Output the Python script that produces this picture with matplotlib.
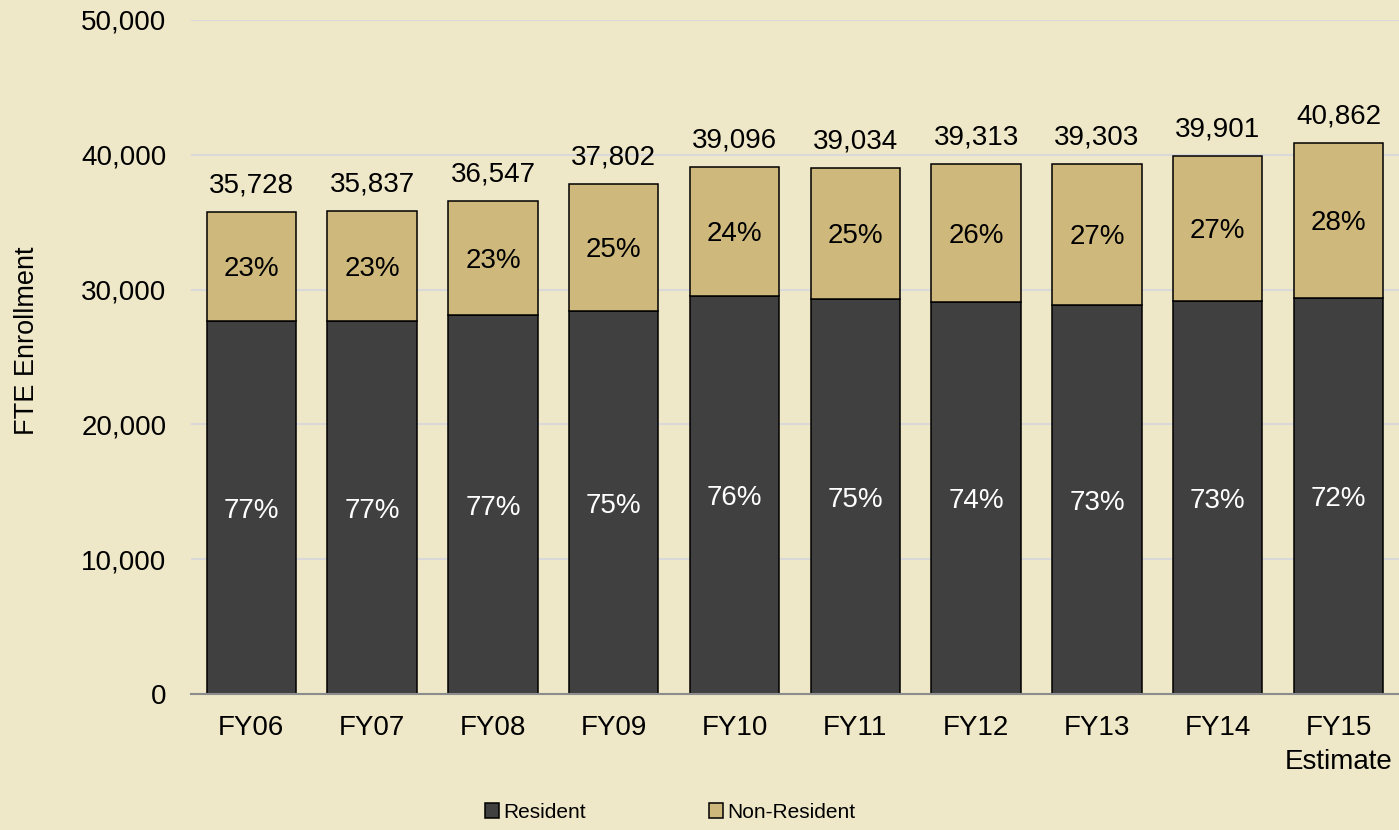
import matplotlib.pyplot as plt
from matplotlib.ticker import FuncFormatter

# FTE enrollment by fiscal year
years = ['FY06', 'FY07', 'FY08', 'FY09', 'FY10', 'FY11', 'FY12', 'FY13', 'FY14', 'FY15\nEstimate']
totals = [35728, 35837, 36547, 37802, 39096, 39034, 39313, 39303, 39901, 40862]
resident = [27670, 27670, 28116, 28412, 29525, 29300, 29080, 28858, 29150, 29377]
resident_pct = ['77%', '77%', '77%', '75%', '76%', '75%', '74%', '73%', '73%', '72%']
nonres_pct = ['23%', '23%', '23%', '25%', '24%', '25%', '26%', '27%', '27%', '28%']

nonresident = [t - r for t, r in zip(totals, resident)]

bg = '#EEE7C8'
dark = '#404040'
gold = '#CFB87C'

plt.rcParams['font.family'] = ['Liberation Sans', 'DejaVu Sans']

fig = plt.figure(figsize=(13.99, 8.30), dpi=100, facecolor=bg)
ax = fig.add_axes([0.1365, 0.164, 0.8635, 0.812])
ax.set_facecolor(bg)

x = list(range(len(years)))
w = 0.74
b1 = ax.bar(x, resident, w, color=dark, edgecolor='black', linewidth=1.1,
            label='Resident', zorder=3)
b2 = ax.bar(x, nonresident, w, bottom=resident, color=gold, edgecolor='black',
            linewidth=1.1, label='Non-Resident', zorder=3)

fs = 20
for i in x:
    ax.text(i, resident[i] / 2 - 250, resident_pct[i], ha='center', va='center',
            color='white', fontsize=fs, zorder=4)
    ax.text(i, resident[i] + nonresident[i] / 2 - 200, nonres_pct[i], ha='center',
            va='center', color='black', fontsize=fs, zorder=4)
    ax.text(i, totals[i] + 1000, f'{totals[i]:,}', ha='center', va='bottom',
            color='black', fontsize=fs, zorder=4)

ax.set_xlim(-0.5, len(years) - 0.5)
ax.set_ylim(0, 50000)
ax.set_yticks(range(0, 50001, 10000))
ax.yaxis.set_major_formatter(FuncFormatter(lambda v, p: f'{int(v):,}'))
ax.set_xticks(x)
ax.set_xticklabels(years, fontsize=fs, linespacing=1.4)
ax.tick_params(axis='y', labelsize=fs, length=0, pad=17.7)
ax.tick_params(axis='x', length=0, pad=15)

ax.grid(axis='y', color='#D9D9D9', linewidth=1.5, zorder=0)
ax.set_axisbelow(True)
for s in ['left', 'right', 'top']:
    ax.spines[s].set_visible(False)
ax.spines['bottom'].set_color('#8C8C8C')
ax.spines['bottom'].set_linewidth(1.5)
ax.spines['bottom'].set_zorder(5)

fig.text(0.019, 0.589, 'FTE Enrollment', rotation=90, ha='center', va='center',
         fontsize=19.5)

leg = fig.legend(handles=[b1, b2], labels=['Resident', 'Non-Resident'],
                 loc='center', bbox_to_anchor=(0.479, 0.021), ncol=2,
                 frameon=False, handlelength=0.7, handleheight=0.7,
                 handletextpad=0.2, columnspacing=5.9, fontsize=15)

fig.savefig('out.png', dpi=100, facecolor=bg)
